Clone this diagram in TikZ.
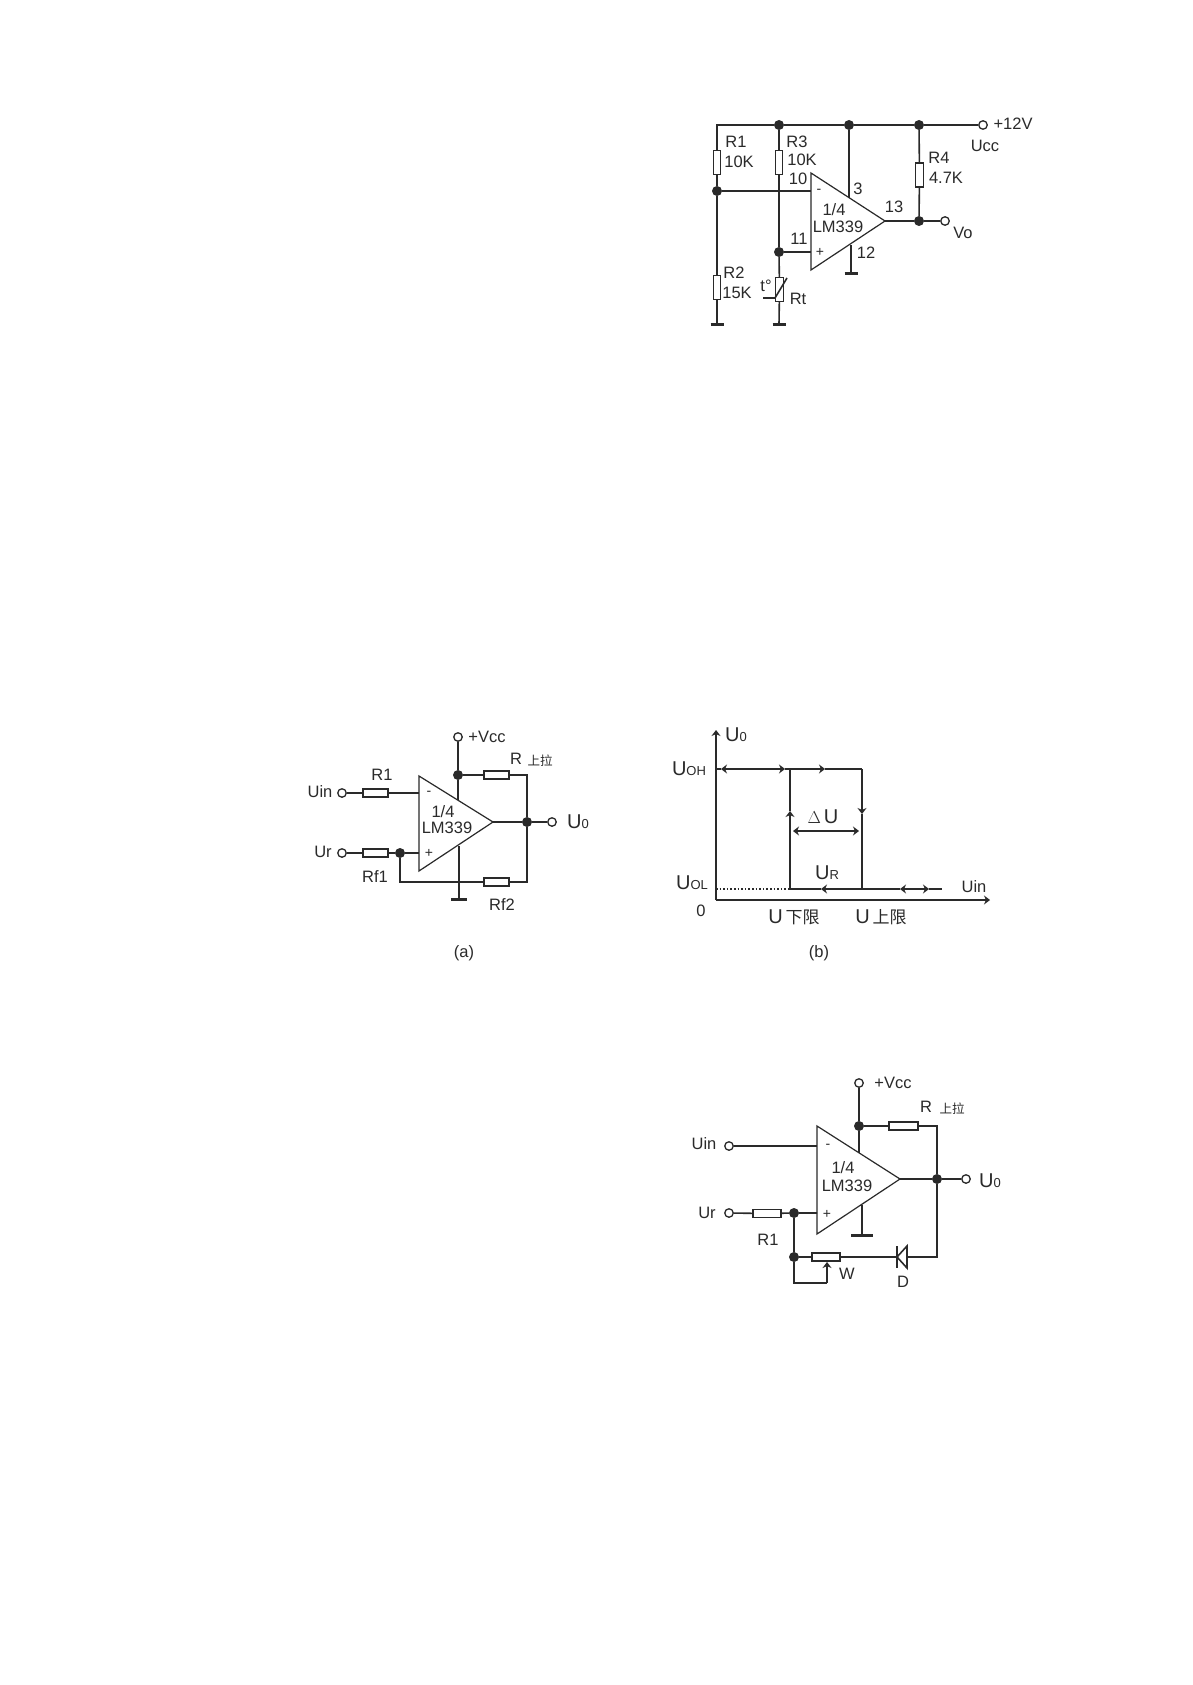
\documentclass[tikz,border=0pt]{standalone}
\usepackage{fontspec}
\setmainfont{Liberation Sans}
\newfontfamily\cjk{Noto Sans CJK SC}
\usetikzlibrary{arrows.meta}
\definecolor{ink}{HTML}{2A2A2A}
\newcommand{\sm}[1]{{\fontsize{13}{14}\selectfont #1}}
\newcommand{\bigu}{{\fontsize{20}{20}\selectfont U}}
\tikzset{
	wire/.style={draw=ink,line width=1.6pt},
	thin wire/.style={draw=ink,line width=1.2pt},
	pt/.style={coordinate},
	res/.style={draw=ink,line width=1.3pt,rectangle,fill=white,inner sep=0pt,minimum width=25pt,minimum height=8pt},
	vres/.style={draw=ink,line width=1.3pt,rectangle,fill=white,inner sep=0pt,minimum width=7.5pt,minimum height=24pt},
	jun/.style={circle,fill=ink,inner sep=0pt,minimum size=10pt},
	term/.style={circle,draw=ink,line width=1.3pt,fill=white,inner sep=0pt,minimum size=8.5pt},
	gnd/.style={draw=ink,line width=3pt},
	lab/.style={inner sep=0pt,text=ink,font=\fontsize{16.5}{18}\selectfont},
	sign/.style={inner sep=0pt,text=ink,font=\fontsize{14}{14}\selectfont},
	>={Stealth[length=6pt,width=9pt]}
}

\begin{document}
\begin{tikzpicture}[x=1pt,y=-1pt]
	\useasboundingbox[fill=white] (0,0) rectangle (1192,1685);

	\node[pt] (tl) at (717,125) {};
	\node[jun] (t1) at (779,125) {};
	\node[jun] (t2) at (849,125) {};
	\node[jun] (t3) at (919,125) {};
	\node[term] (vcc) at (983,125) {};
	\node[vres] (r1) at (717,162.5) {};
	\node[vres] (r3) at (779,162.5) {};
	\node[vres] (r4) at (919.5,175) {};
	\node[vres] (r2) at (717,287.5) {};
	\node[vres] (rt) at (779.5,289.5) {};
	\node[jun] (j1) at (717,191) {};
	\node[jun] (j2) at (779,252) {};
	\node[jun] (j3) at (919,221) {};
	\node[term] (vo) at (945,221) {};
	\node[pt] (g1) at (717,324) {};
	\node[pt] (g2) at (779,324) {};
	\node[pt] (g3) at (851,274) {};
	\node[pt] (atl) at (811,173) {};
	\node[pt] (abl) at (811,270) {};
	\node[pt] (atip) at (885,221) {};
	\node[pt] (ain) at (811,191) {};
	\node[pt] (aip) at (811,252) {};
	\node[pt] (apw) at (849,198) {};
	\node[pt] (agn) at (851,245) {};
	\node[pt] (th1) at (763,298) {};
	\node[pt] (th2) at (775,298) {};
	\node[pt] (th3) at (787,278) {};

	\draw[thin wire] (atl) -- (atip) -- (abl) -- cycle;
	\draw[wire] (r1) |- (tl) -- (t1) -- (t2) -- (t3) -- (vcc);
	\draw[wire] (r1) -- (j1) -- (r2) -- (g1);
	\draw[wire] (t1) -- (r3) -- (j2) -- (rt) -- (g2);
	\draw[wire] (j1) -- (ain);
	\draw[wire] (j2) -- (aip);
	\draw[wire] (t2) -- (apw);
	\draw[wire] (agn) -- (g3);
	\draw[wire] (t3) -- (r4) -- (j3);
	\draw[wire] (atip) -- (j3) -- (vo);
	\draw[wire] (th1) -- (th2) -- (th3);
	\draw[gnd] ([xshift=-6.5pt]g1) -- ([xshift=6.5pt]g1);
	\draw[gnd] ([xshift=-6.5pt]g2) -- ([xshift=6.5pt]g2);
	\draw[gnd] ([xshift=-6.5pt]g3) -- ([xshift=6.5pt]g3);

	\node[lab] (lr1) at (736,142) {R1};
	\node[lab] (v1) at (739,162) {10K};
	\node[lab] (lr3) at (797,142) {R3};
	\node[lab] (v3) at (802,160) {10K};
	\node[lab] (p10) at (798,179) {10};
	\node[lab] (p11) at (799,239) {11};
	\node[lab] (p3) at (858,189) {3};
	\node[lab] (p13) at (894,207) {13};
	\node[lab] (p12) at (866,253) {12};
	\node[lab] (q1) at (834,210) {1/4};
	\node[lab] (lm1) at (838,227) {LM339};
	\node[sign] (m1) at (819,191) {-};
	\node[sign] (s1) at (820,252) {+};
	\node[lab] (lr4) at (939,158) {R4};
	\node[lab] (v4) at (946,178) {4.7K};
	\node[lab] (lvo) at (963,233) {Vo};
	\node[lab] (lr2) at (734,273) {R2};
	\node[lab] (v2) at (737,293) {15K};
	\node[lab] (lrt) at (798,299) {Rt};
	\node[lab] (lt) at (766,286) {t°};
	\node[lab] (l12) at (1013,124) {+12V};
	\node[lab] (lcc) at (985,146) {Ucc};

	\node[term] (uin) at (342,793) {};
	\node[term] (ur) at (342,853) {};
	\node[term] (vc) at (458,737) {};
	\node[term] (uo) at (552,822) {};
	\node[res] (ra) at (375.5,793) {};
	\node[res] (rb) at (375.5,853) {};
	\node[res] (rc) at (496.5,775) {};
	\node[res] (rd) at (496.5,882) {};
	\node[jun] (ja) at (400,853) {};
	\node[jun] (jb) at (458,775) {};
	\node[jun] (jc) at (527,822) {};
	\node[pt] (btl) at (419,776) {};
	\node[pt] (bbl) at (419,871) {};
	\node[pt] (btip) at (493,822) {};
	\node[pt] (bin) at (419,793) {};
	\node[pt] (bip) at (419,853) {};
	\node[pt] (bpw) at (458,800) {};
	\node[pt] (bgn) at (459,846) {};
	\node[pt] (bg) at (459,899) {};
	\node[pt] (bc1) at (527,775) {};
	\node[pt] (bc2) at (527,882) {};
	\node[pt] (bc3) at (400,882) {};

	\draw[thin wire] (btl) -- (btip) -- (bbl) -- cycle;
	\draw[wire] (uin) -- (ra) -- (bin);
	\draw[wire] (ur) -- (rb) -- (ja) -- (bip);
	\draw[wire] (vc) -- (jb) -- (bpw);
	\draw[wire] (jb) -- (rc) -- (bc1) -- (jc);
	\draw[wire] (btip) -- (jc) -- (uo);
	\draw[wire] (ja) -- (bc3) -- (rd) -- (bc2) -- (jc);
	\draw[wire] (bgn) -- (bg);
	\draw[gnd] ([xshift=-8pt]bg) -- ([xshift=8pt]bg);

	\node[lab] (luin) at (320,792) {Uin};
	\node[lab] (lur) at (323,852) {Ur};
	\node[lab] (lra) at (382,775) {R1};
	\node[lab] (lrb) at (375,877) {Rf1};
	\node[lab] (lrd) at (502,905) {Rf2};
	\node[lab] (lrc) at (516,759) {R};
	\node[lab,font=\cjk\fontsize{12.5}{13}\selectfont] (lrcc) at (540,761) {上拉};
	\node[lab] (lvc) at (487,737) {+Vcc};
	\node[lab] (luo) at (578,822) {\bigu\sm{0}};
	\node[lab] (q2) at (443,812) {1/4};
	\node[lab] (lm2) at (447,828) {LM339};
	\node[sign] (m2) at (429,793) {-};
	\node[sign] (s2) at (429,853) {+};
	\node[lab] (capa) at (464,953) {(a)};

	\node[pt] (o) at (716,900) {};
	\node[pt] (ytop) at (716,730) {};
	\node[pt] (xend) at (990,900) {};
	\node[pt] (yh) at (716,769) {};
	\node[pt] (yl) at (716,889) {};
	\node[pt] (hl) at (790,769) {};
	\node[pt] (hr) at (862,769) {};
	\node[pt] (ll) at (790,889) {};
	\node[pt] (lr) at (862,889) {};
	\node[pt] (lend) at (942,889) {};
	\node[pt] (ha) at (721,769) {};
	\node[pt] (hb) at (785,769) {};
	\node[pt] (hc) at (825,769) {};
	\node[pt] (up) at (790,811) {};
	\node[pt] (dn) at (862,814) {};
	\node[pt] (lm) at (821,889) {};
	\node[pt] (ea) at (900,889) {};
	\node[pt] (eb) at (929,889) {};
	\node[pt] (da) at (793,831) {};
	\node[pt] (db) at (859,831) {};

	\draw[wire,->] (o) -- (ytop);
	\draw[wire,->] (o) -- (xend);
	\draw[wire] (yh) -- (ha);
	\draw[wire,<->] (ha) -- (hb);
	\draw[wire,->] (hb) -- (hc);
	\draw[wire] (hc) -- (hr);
	\draw[wire,->] (ll) -- (up);
	\draw[wire] (up) -- (hl);
	\draw[wire,->] (hr) -- (dn);
	\draw[wire] (dn) -- (lr);
	\draw[wire,->] (lr) -- (lm);
	\draw[wire] (lm) -- (ll);
	\draw[wire] (lr) -- (ea);
	\draw[wire,<->] (ea) -- (eb);
	\draw[wire] (eb) -- (lend);
	\draw[wire,<->] (da) -- (db);
	\draw[draw=ink,line width=1.6pt,dotted] (yl) -- (ll);

	\node[lab] (ly) at (736,735) {\bigu\sm{0}};
	\node[lab] (loh) at (689,769) {\bigu\sm{OH}};
	\node[lab] (lol) at (692,883) {\bigu\sm{OL}};
	\node[lab] (lzero) at (701,911) {0};
	\node[lab] (ldu) at (823,817) {$\Delta$\,\bigu};
	\node[lab] (lur2) at (827,873) {\bigu\sm{R}};
	\node[lab] (lx) at (974,887) {Uin};
	\node[lab] (lxl) at (794,917) {\bigu\,{\cjk\fontsize{17}{18}\selectfont 下限}};
	\node[lab] (lxh) at (881,917) {\bigu\,{\cjk\fontsize{17}{18}\selectfont 上限}};
	\node[lab] (capb) at (819,953) {(b)};

	\node[term] (cin) at (729,1146) {};
	\node[term] (cr) at (729,1213) {};
	\node[term] (cv) at (859,1083) {};
	\node[term] (co) at (966,1179) {};
	\node[res,minimum width=28pt] (rg) at (767,1213.5) {};
	\node[res,minimum width=29pt] (rh) at (903.5,1126) {};
	\node[res,minimum width=28pt] (rw) at (826,1257) {};
	\node[jun] (ca) at (794,1213) {};
	\node[jun] (cb) at (794,1257) {};
	\node[jun] (cc) at (859,1126) {};
	\node[jun] (cd) at (937,1179) {};
	\node[pt] (ctl) at (817,1126) {};
	\node[pt] (cbl) at (817,1234) {};
	\node[pt] (ctip) at (900,1179) {};
	\node[pt] (cim) at (817,1146) {};
	\node[pt] (cip) at (817,1213) {};
	\node[pt] (cpw) at (859,1153) {};
	\node[pt] (cgn) at (862,1205) {};
	\node[pt] (cg) at (862,1235) {};
	\node[pt] (ce1) at (937,1126) {};
	\node[pt] (ce2) at (937,1257) {};
	\node[pt] (da1) at (897,1257) {};
	\node[pt] (da2) at (907,1246) {};
	\node[pt] (da3) at (907,1268) {};
	\node[pt] (da4) at (907,1257) {};
	\node[pt] (db1) at (897,1246) {};
	\node[pt] (db2) at (897,1268) {};
	\node[pt] (wa) at (794,1283) {};
	\node[pt] (wb) at (827,1283) {};
	\node[pt] (wc) at (827,1262) {};

	\draw[thin wire] (ctl) -- (ctip) -- (cbl) -- cycle;
	\draw[wire] (cin) -- (cim);
	\draw[wire] (cr) -- (rg) -- (ca) -- (cip);
	\draw[wire] (cv) -- (cc) -- (cpw);
	\draw[wire] (cc) -- (rh) -- (ce1) -- (cd);
	\draw[wire] (ctip) -- (cd) -- (co);
	\draw[wire] (cd) -- (ce2) -- (da4);
	\draw[wire] (ca) -- (cb) -- (rw) -- (da1);
	\draw[wire] (cb) -- (wa) -- (wb);
	\draw[wire,->] (wb) -- (wc);
	\draw[wire] (da1) -- (da2) -- (da3) -- cycle;
	\draw[wire] (db1) -- (db2);
	\draw[wire] (cgn) -- (cg);
	\draw[gnd] ([xshift=-11pt]cg) -- ([xshift=11pt]cg);

	\node[lab] (lcin) at (704,1144) {Uin};
	\node[lab] (lcr) at (707,1213) {Ur};
	\node[lab] (lrg) at (768,1240) {R1};
	\node[lab] (lw) at (847,1274) {W};
	\node[lab] (ld) at (903,1282) {D};
	\node[lab] (lcv) at (893,1083) {+Vcc};
	\node[lab] (lrh) at (926,1107) {R};
	\node[lab,font=\cjk\fontsize{12.5}{13}\selectfont] (lrhh) at (952,1109) {上拉};
	\node[lab] (lco) at (990,1181) {\bigu\sm{0}};
	\node[lab] (q3) at (843,1168) {1/4};
	\node[lab] (lm3) at (847,1186) {LM339};
	\node[sign] (m3) at (828,1146) {-};
	\node[sign] (s3) at (827,1214) {+};
\end{tikzpicture}
\end{document}
